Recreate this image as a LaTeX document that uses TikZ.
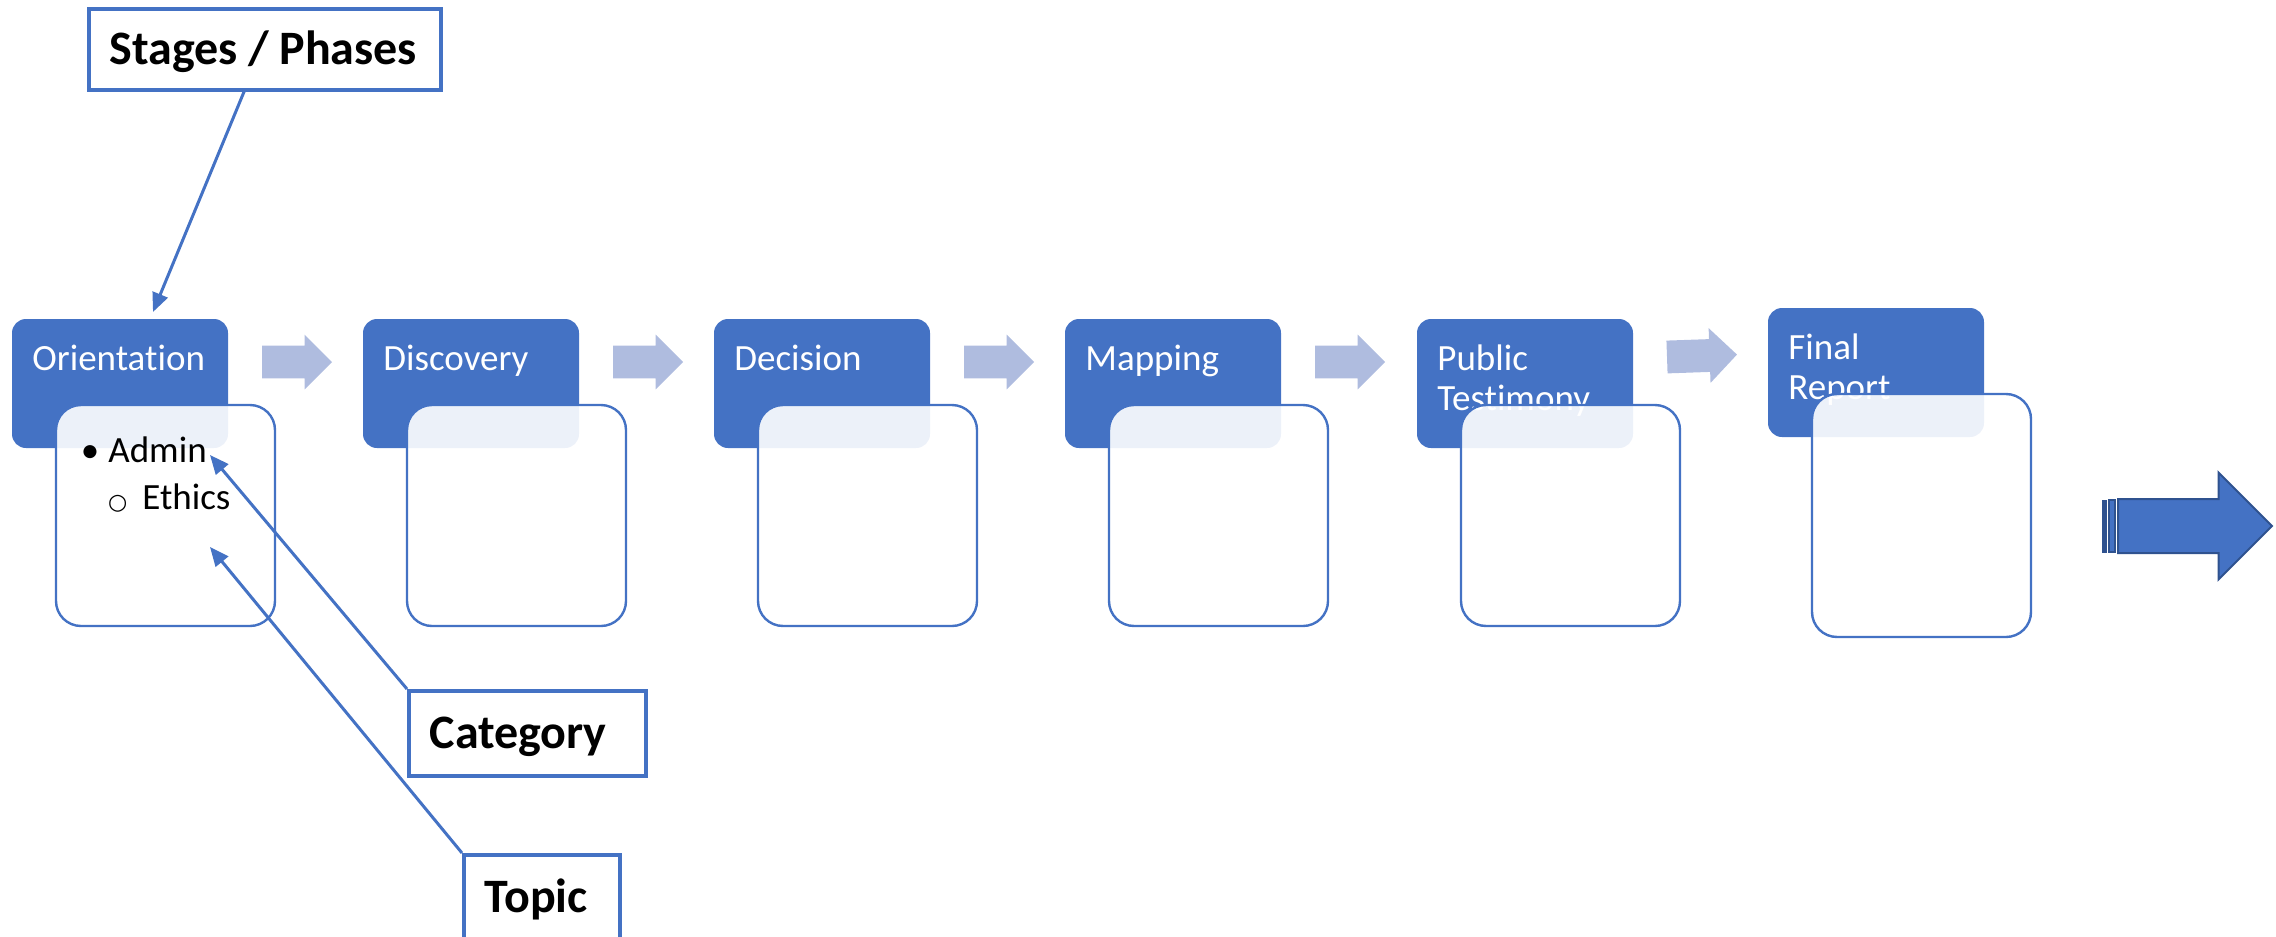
\documentclass[tikz,border=0pt]{standalone}
\usepackage{fontspec}
\setmainfont{Carlito}[Ligatures=NoCommon]
\newfontfamily\symbfont{DejaVu Sans}
\usetikzlibrary{calc,shapes.arrows,arrows.meta}
\definecolor{hdblue}{RGB}{68,114,196}
\definecolor{flowblue}{RGB}{175,188,223}
\definecolor{darkblue}{RGB}{47,82,143}

\begin{document}
\begin{tikzpicture}[x=0.5pt,y=-0.5pt]
\tikzstyle{stage}=[fill=hdblue,rounded corners=7pt,minimum width=108pt,minimum height=64.5pt,inner sep=0pt,outer sep=0pt,anchor=north west]

\tikzstyle{stagetext}=[text=white,font=\fontsize{18.5}{20}\selectfont,anchor=base west,inner sep=0pt,align=left,text width=95pt]

\tikzstyle{topicbox}=[draw=hdblue,line width=1.2pt,fill=white,fill opacity=0.9,rounded corners=12.5pt,minimum width=109.5pt,minimum height=110.5pt,inner sep=0pt,outer sep=0pt,anchor=north west]

\tikzstyle{itemtext}=[font=\fontsize{18.5}{20}\selectfont,anchor=base west,inner sep=0pt]

\tikzstyle{flow}=[single arrow,fill=flowblue,inner xsep=0pt,inner ysep=8pt,outer sep=0pt,minimum height=35pt,single arrow head extend=5.5pt,anchor=tail]

\tikzstyle{callout}=[draw=hdblue,line width=1.75pt,font=\bfseries\fontsize{24}{28}\selectfont,anchor=north west,inner xsep=10.5pt,inner ysep=0pt,text height=15.5pt,text depth=0pt,align=left]

\tikzstyle{link}=[draw=hdblue,line width=1.5pt,-{Triangle[length=9.5pt,width=8pt]}]

\useasboundingbox (0,0) rectangle (2276,937);

\node (H1) [stage] at (12,319) {};
\node (H2) [stage] at (363,319) {};
\node (H3) [stage] at (714,319) {};
\node (H4) [stage] at (1065,319) {};
\node (H5) [stage] at (1417,319) {};
\node (H6) [stage] at (1768,308) {};

\node (T1) [stagetext] at ($(H1.north west)+(20,51)$) {Orientation};
\node (T2) [stagetext] at ($(H2.north west)+(20,51)$) {Discovery};
\node (T3) [stagetext] at ($(H3.north west)+(20,51)$) {Decision};
\node (T4) [stagetext] at ($(H4.north west)+(20,51)$) {Mapping};
\node (T5) [stagetext] at ($(H5.north west)+(20,51)$) {Public\\Testimony};
\node (T6) [stagetext] at ($(H6.north west)+(20,51)$) {Final\\Report};

\node (C1) [topicbox] at ($(H1.north west)+(44,86)$) {};
\node (C2) [topicbox] at ($(H2.north west)+(44,86)$) {};
\node (C3) [topicbox] at ($(H3.north west)+(44,86)$) {};
\node (C4) [topicbox] at ($(H4.north west)+(44,86)$) {};
\node (C5) [topicbox] at ($(H5.north west)+(44,86)$) {};
\node (C6) [topicbox,minimum height=121.5pt] at ($(H6.north west)+(44,86)$) {};

\node (admin) [itemtext] at (108,462) {\llap{\textbullet\hspace{4.5pt}}Admin};
\node (ethics) [itemtext] at (142,509) {\llap{{\symbfont\fontsize{11}{12}\selectfont ○}\hspace{7.5pt}}Ethics};

\node (A1) [flow] at (262,362) {};
\node (A2) [flow] at (613,362) {};
\node (A3) [flow] at (964,362) {};
\node (A4) [flow] at (1315,362) {};
\node (A5) [flow,rotate=2] at (1667,357) {};

\node (next) [single arrow,fill=hdblue,draw=darkblue,line width=1pt,inner xsep=0pt,inner ysep=13pt,outer sep=0pt,minimum height=77pt,single arrow head extend=13.25pt,anchor=tail] at (2118,526) {};
\node (S1) [fill=darkblue,draw=darkblue,line width=0.5pt,inner sep=0pt,minimum width=2pt,minimum height=26pt] at (2104,526) {};
\node (S2) [fill=hdblue,draw=darkblue,line width=0.75pt,inner sep=0pt,minimum width=3pt,minimum height=26pt] at (2112,526) {};

\node (stages) [callout,text width=155pt,minimum height=40.5pt] at (87,7) {\mbox{\spaceskip=0.22em\relax Stages / Phases}};
\node (category) [callout,text width=97.5pt,minimum height=42.5pt] at (407,689) {Category};
\node (topic) [callout,text width=57pt,minimum height=42.5pt] at (462,853) {Topic};

\coordinate (stagetip) at (153,312);
\coordinate (admintip) at (210,455);
\coordinate (topictip) at (210,547);

\draw [link] (stages.244) -- (stagetip);
\draw [link] (category.north west) -- (admintip);
\draw [link] (topic.north west) -- (topictip);

\end{tikzpicture}
\end{document}
